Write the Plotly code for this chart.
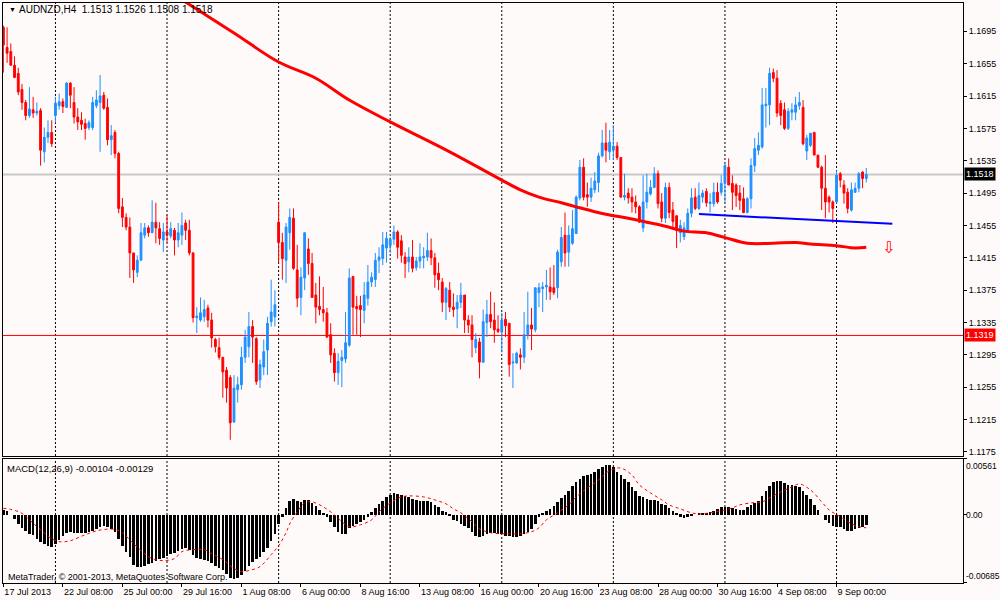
import plotly.graph_objects as go

# AUDNZD H4 candles, 17 Jul 2013 .. 9 Sep 2013
opens = [
    1.1700, 1.1675, 1.1670, 1.1653, 1.1643, 1.1623, 1.1607, 1.1591, 1.1598, 1.1594,
    1.1597, 1.1546, 1.1564, 1.1570, 1.1591, 1.1603, 1.1608, 1.1601, 1.1631, 1.1607,
    1.1589, 1.1585, 1.1581, 1.1576, 1.1576, 1.1603, 1.1607, 1.1616, 1.1601, 1.1561,
    1.1570, 1.1544, 1.1478, 1.1465, 1.1453, 1.1421, 1.1397, 1.1412, 1.1443, 1.1452,
    1.1446, 1.1459, 1.1451, 1.1437, 1.1447, 1.1442, 1.1449, 1.1437, 1.1443, 1.1458,
    1.1449, 1.1421, 1.1341, 1.1338, 1.1342, 1.1353, 1.1338, 1.1314, 1.1304, 1.1292,
    1.1276, 1.1267, 1.1212, 1.1252, 1.1258, 1.1292, 1.1305, 1.1330, 1.1315, 1.1264,
    1.1280, 1.1301, 1.1336, 1.1342, 1.1459, 1.1434, 1.1412, 1.1446, 1.1464, 1.1400,
    1.1366, 1.1390, 1.1426, 1.1408, 1.1369, 1.1355, 1.1351, 1.1347, 1.1320, 1.1297,
    1.1273, 1.1288, 1.1290, 1.1307, 1.1392, 1.1355, 1.1356, 1.1350, 1.1365, 1.1385,
    1.1388, 1.1412, 1.1414, 1.1427, 1.1430, 1.1438, 1.1447, 1.1436, 1.1416, 1.1410,
    1.1416, 1.1403, 1.1411, 1.1415, 1.1416, 1.1424, 1.1415, 1.1396, 1.1385, 1.1360,
    1.1375, 1.1354, 1.1352, 1.1360, 1.1369, 1.1338, 1.1332, 1.1304, 1.1311, 1.1286,
    1.1335, 1.1345, 1.1338, 1.1327, 1.1323, 1.1339, 1.1334, 1.1285, 1.1285, 1.1295,
    1.1292, 1.1320, 1.1332, 1.1326, 1.1372, 1.1377, 1.1379, 1.1379, 1.1378, 1.1378,
    1.1410, 1.1443, 1.1422, 1.1433, 1.1445, 1.1489, 1.1527, 1.1493, 1.1490, 1.1499,
    1.1508, 1.1541, 1.1557, 1.1546, 1.1548, 1.1553, 1.1539, 1.1490, 1.1495, 1.1490,
    1.1484, 1.1478, 1.1452, 1.1484, 1.1494, 1.1502, 1.1519, 1.1484, 1.1464, 1.1502,
    1.1474, 1.1467, 1.1446, 1.1441, 1.1449, 1.1470, 1.1490, 1.1476, 1.1490, 1.1497,
    1.1482, 1.1482, 1.1496, 1.1496, 1.1507, 1.1527, 1.1507, 1.1505, 1.1495, 1.1488,
    1.1471, 1.1488, 1.1529, 1.1548, 1.1552, 1.1603, 1.1604, 1.1644, 1.1637, 1.1606,
    1.1598, 1.1575, 1.1595, 1.1595, 1.1603, 1.1601, 1.1547, 1.1554, 1.1570, 1.1542,
    1.1527, 1.1501, 1.1490, 1.1484, 1.1484, 1.1519, 1.1505, 1.1496, 1.1474, 1.1496,
    1.1501, 1.1521, 1.1513,
]
highs = [
    1.1702, 1.1700, 1.1680, 1.1664, 1.1650, 1.1630, 1.1610, 1.1626, 1.1614, 1.1607,
    1.1600, 1.1576, 1.1585, 1.1585, 1.1614, 1.1618, 1.1612, 1.1632, 1.1632, 1.1626,
    1.1600, 1.1595, 1.1587, 1.1585, 1.1614, 1.1622, 1.1641, 1.1620, 1.1612, 1.1579,
    1.1573, 1.1546, 1.1489, 1.1470, 1.1465, 1.1421, 1.1418, 1.1458, 1.1458, 1.1455,
    1.1486, 1.1483, 1.1459, 1.1458, 1.1468, 1.1459, 1.1452, 1.1458, 1.1471, 1.1462,
    1.1462, 1.1422, 1.1354, 1.1366, 1.1363, 1.1357, 1.1347, 1.1316, 1.1316, 1.1292,
    1.1280, 1.1270, 1.1270, 1.1268, 1.1305, 1.1326, 1.1348, 1.1338, 1.1317, 1.1289,
    1.1314, 1.1342, 1.1388, 1.1375, 1.1484, 1.1446, 1.1458, 1.1476, 1.1476, 1.1431,
    1.1403, 1.1446, 1.1439, 1.1421, 1.1384, 1.1392, 1.1379, 1.1353, 1.1334, 1.1303,
    1.1297, 1.1301, 1.1348, 1.1402, 1.1392, 1.1368, 1.1368, 1.1385, 1.1406, 1.1397,
    1.1421, 1.1428, 1.1447, 1.1447, 1.1441, 1.1455, 1.1449, 1.1443, 1.1422, 1.1428,
    1.1437, 1.1416, 1.1433, 1.1428, 1.1446, 1.1439, 1.1421, 1.1409, 1.1390, 1.1379,
    1.1385, 1.1371, 1.1369, 1.1384, 1.1369, 1.1344, 1.1344, 1.1322, 1.1316, 1.1351,
    1.1363, 1.1373, 1.1360, 1.1344, 1.1347, 1.1348, 1.1334, 1.1297, 1.1299, 1.1303,
    1.1348, 1.1373, 1.1353, 1.1378, 1.1384, 1.1385, 1.1400, 1.1403, 1.1406, 1.1425,
    1.1453, 1.1471, 1.1455, 1.1474, 1.1492, 1.1536, 1.1538, 1.1508, 1.1514, 1.1521,
    1.1545, 1.1573, 1.1582, 1.1573, 1.1579, 1.1558, 1.1539, 1.1519, 1.1501, 1.1501,
    1.1492, 1.1480, 1.1517, 1.1519, 1.1511, 1.1527, 1.1523, 1.1495, 1.1508, 1.1508,
    1.1484, 1.1467, 1.1462, 1.1459, 1.1476, 1.1501, 1.1501, 1.1508, 1.1499, 1.1501,
    1.1495, 1.1508, 1.1508, 1.1517, 1.1532, 1.1538, 1.1517, 1.1507, 1.1505, 1.1502,
    1.1490, 1.1538, 1.1563, 1.1570, 1.1625, 1.1625, 1.1650, 1.1649, 1.1647, 1.1610,
    1.1607, 1.1600, 1.1606, 1.1614, 1.1620, 1.1610, 1.1567, 1.1569, 1.1570, 1.1542,
    1.1529, 1.1542, 1.1492, 1.1486, 1.1523, 1.1521, 1.1511, 1.1501, 1.1508, 1.1508,
    1.1521, 1.1522, 1.1526,
]
lows = [
    1.1644, 1.1656, 1.1653, 1.1637, 1.1616, 1.1598, 1.1585, 1.1588, 1.1588, 1.1591,
    1.1529, 1.1533, 1.1557, 1.1552, 1.1582, 1.1598, 1.1594, 1.1600, 1.1600, 1.1581,
    1.1573, 1.1573, 1.1561, 1.1573, 1.1573, 1.1600, 1.1546, 1.1598, 1.1554, 1.1542,
    1.1538, 1.1470, 1.1453, 1.1449, 1.1390, 1.1384, 1.1391, 1.1412, 1.1439, 1.1441,
    1.1446, 1.1433, 1.1431, 1.1422, 1.1434, 1.1439, 1.1418, 1.1428, 1.1431, 1.1437,
    1.1418, 1.1335, 1.1322, 1.1336, 1.1336, 1.1329, 1.1304, 1.1298, 1.1289, 1.1242,
    1.1236, 1.1190, 1.1211, 1.1236, 1.1252, 1.1285, 1.1292, 1.1285, 1.1258, 1.1254,
    1.1270, 1.1270, 1.1330, 1.1330, 1.1409, 1.1388, 1.1384, 1.1425, 1.1400, 1.1354,
    1.1344, 1.1375, 1.1394, 1.1366, 1.1334, 1.1344, 1.1336, 1.1316, 1.1285, 1.1262,
    1.1258, 1.1255, 1.1285, 1.1305, 1.1320, 1.1320, 1.1317, 1.1334, 1.1356, 1.1379,
    1.1379, 1.1396, 1.1406, 1.1409, 1.1421, 1.1431, 1.1414, 1.1409, 1.1390, 1.1397,
    1.1397, 1.1399, 1.1402, 1.1402, 1.1411, 1.1406, 1.1378, 1.1375, 1.1348, 1.1338,
    1.1348, 1.1342, 1.1328, 1.1353, 1.1322, 1.1322, 1.1292, 1.1297, 1.1266, 1.1285,
    1.1317, 1.1328, 1.1310, 1.1322, 1.1298, 1.1317, 1.1268, 1.1254, 1.1284, 1.1277,
    1.1285, 1.1314, 1.1301, 1.1323, 1.1354, 1.1348, 1.1363, 1.1363, 1.1369, 1.1365,
    1.1404, 1.1404, 1.1404, 1.1431, 1.1445, 1.1486, 1.1486, 1.1478, 1.1484, 1.1495,
    1.1496, 1.1539, 1.1533, 1.1536, 1.1536, 1.1536, 1.1490, 1.1486, 1.1482, 1.1471,
    1.1470, 1.1458, 1.1447, 1.1476, 1.1492, 1.1501, 1.1476, 1.1459, 1.1458, 1.1464,
    1.1452, 1.1427, 1.1434, 1.1437, 1.1446, 1.1465, 1.1474, 1.1474, 1.1483, 1.1478,
    1.1471, 1.1478, 1.1482, 1.1492, 1.1484, 1.1505, 1.1474, 1.1478, 1.1474, 1.1470,
    1.1470, 1.1476, 1.1521, 1.1542, 1.1550, 1.1576, 1.1579, 1.1632, 1.1589, 1.1579,
    1.1573, 1.1573, 1.1585, 1.1585, 1.1598, 1.1554, 1.1536, 1.1552, 1.1542, 1.1526,
    1.1474, 1.1464, 1.1471, 1.1458, 1.1482, 1.1502, 1.1482, 1.1470, 1.1472, 1.1495,
    1.1496, 1.1501, 1.1508,
]
closes = [
    1.1678, 1.1668, 1.1653, 1.1638, 1.1620, 1.1607, 1.1591, 1.1599, 1.1594, 1.1596,
    1.1548, 1.1564, 1.1570, 1.1556, 1.1606, 1.1608, 1.1602, 1.1631, 1.1616, 1.1589,
    1.1583, 1.1580, 1.1575, 1.1582, 1.1607, 1.1610, 1.1615, 1.1600, 1.1561, 1.1566,
    1.1544, 1.1476, 1.1465, 1.1453, 1.1421, 1.1400, 1.1412, 1.1446, 1.1452, 1.1446,
    1.1459, 1.1452, 1.1439, 1.1447, 1.1443, 1.1451, 1.1437, 1.1446, 1.1455, 1.1449,
    1.1421, 1.1341, 1.1343, 1.1347, 1.1351, 1.1338, 1.1316, 1.1305, 1.1292, 1.1274,
    1.1254, 1.1211, 1.1254, 1.1258, 1.1292, 1.1317, 1.1330, 1.1317, 1.1262, 1.1283,
    1.1299, 1.1334, 1.1348, 1.1357, 1.1434, 1.1414, 1.1453, 1.1465, 1.1402, 1.1365,
    1.1391, 1.1446, 1.1408, 1.1366, 1.1354, 1.1351, 1.1347, 1.1317, 1.1295, 1.1273,
    1.1287, 1.1292, 1.1310, 1.1390, 1.1354, 1.1352, 1.1351, 1.1369, 1.1385, 1.1391,
    1.1412, 1.1416, 1.1431, 1.1439, 1.1438, 1.1447, 1.1428, 1.1418, 1.1408, 1.1416,
    1.1402, 1.1411, 1.1416, 1.1417, 1.1424, 1.1415, 1.1394, 1.1388, 1.1360, 1.1377,
    1.1354, 1.1351, 1.1360, 1.1369, 1.1338, 1.1332, 1.1314, 1.1314, 1.1286, 1.1336,
    1.1345, 1.1336, 1.1326, 1.1324, 1.1338, 1.1331, 1.1283, 1.1286, 1.1297, 1.1292,
    1.1320, 1.1332, 1.1327, 1.1378, 1.1378, 1.1379, 1.1381, 1.1373, 1.1372, 1.1422,
    1.1440, 1.1421, 1.1443, 1.1451, 1.1490, 1.1527, 1.1490, 1.1490, 1.1501, 1.1510,
    1.1541, 1.1557, 1.1548, 1.1558, 1.1553, 1.1539, 1.1490, 1.1492, 1.1489, 1.1484,
    1.1478, 1.1459, 1.1484, 1.1496, 1.1502, 1.1519, 1.1482, 1.1464, 1.1502, 1.1471,
    1.1460, 1.1449, 1.1455, 1.1452, 1.1470, 1.1489, 1.1476, 1.1492, 1.1495, 1.1483,
    1.1484, 1.1496, 1.1484, 1.1507, 1.1529, 1.1505, 1.1496, 1.1492, 1.1486, 1.1471,
    1.1488, 1.1529, 1.1550, 1.1554, 1.1604, 1.1605, 1.1643, 1.1637, 1.1594, 1.1591,
    1.1575, 1.1596, 1.1598, 1.1604, 1.1607, 1.1556, 1.1563, 1.1569, 1.1542, 1.1527,
    1.1501, 1.1484, 1.1484, 1.1476, 1.1517, 1.1511, 1.1495, 1.1476, 1.1499, 1.1501,
    1.1519, 1.1513, 1.1518,
]

# MACD(12,26,9) main histogram, one value per bar
macd_main = [
    0.0005, 0.0004, 0.0000, -0.0004, -0.0009, -0.0013, -0.0016, -0.0019, -0.0020, -0.0024,
    -0.0027, -0.0029, -0.0031, -0.0032, -0.0029, -0.0025, -0.0021, -0.0018, -0.0017, -0.0018,
    -0.0018, -0.0018, -0.0018, -0.0017, -0.0016, -0.0014, -0.0012, -0.0011, -0.0012, -0.0014,
    -0.0017, -0.0024, -0.0031, -0.0037, -0.0042, -0.0050, -0.0052, -0.0052, -0.0051, -0.0049,
    -0.0048, -0.0046, -0.0044, -0.0043, -0.0041, -0.0039, -0.0038, -0.0036, -0.0034, -0.0033,
    -0.0035, -0.0040, -0.0043, -0.0044, -0.0045, -0.0046, -0.0048, -0.0051, -0.0053, -0.0055,
    -0.0059, -0.0063, -0.0064, -0.0063, -0.0060, -0.0056, -0.0051, -0.0047, -0.0044, -0.0042,
    -0.0037, -0.0033, -0.0026, -0.0019, -0.0009, -0.0002, 0.0007, 0.0014, 0.0016, 0.0014,
    0.0013, 0.0015, 0.0015, 0.0012, 0.0009, 0.0005, 0.0002, -0.0002, -0.0007, -0.0012,
    -0.0017, -0.0019, -0.0019, -0.0013, -0.0011, -0.0009, -0.0007, -0.0005, -0.0002, 0.0003,
    0.0007, 0.0011, 0.0014, 0.0018, 0.0020, 0.0022, 0.0021, 0.0020, 0.0019, 0.0018,
    0.0016, 0.0015, 0.0014, 0.0014, 0.0014, 0.0013, 0.0010, 0.0008, 0.0004, 0.0003,
    -0.0001, -0.0005, -0.0006, -0.0009, -0.0011, -0.0013, -0.0017, -0.0021, -0.0022, -0.0021,
    -0.0019, -0.0018, -0.0018, -0.0019, -0.0019, -0.0021, -0.0021, -0.0022, -0.0022, -0.0021,
    -0.0019, -0.0017, -0.0014, -0.0009, -0.0002, 0.0002, 0.0004, 0.0006, 0.0009, 0.0013,
    0.0017, 0.0020, 0.0024, 0.0029, 0.0033, 0.0036, 0.0039, 0.0040, 0.0041, 0.0043,
    0.0046, 0.0048, 0.0050, 0.0050, 0.0048, 0.0043, 0.0040, 0.0036, 0.0033, 0.0028,
    0.0024, 0.0019, 0.0018, 0.0016, 0.0015, 0.0015, 0.0014, 0.0011, 0.0010, 0.0007,
    0.0004, 0.0002, -0.0002, -0.0003, -0.0002, -0.0001, 0.0000, 0.0001, 0.0002, 0.0002,
    0.0003, 0.0004, 0.0006, 0.0008, 0.0008, 0.0008, 0.0007, 0.0006, 0.0005, 0.0005,
    0.0008, 0.0010, 0.0012, 0.0014, 0.0019, 0.0024, 0.0029, 0.0033, 0.0034, 0.0034,
    0.0032, 0.0030, 0.0030, 0.0029, 0.0028, 0.0024, 0.0020, 0.0016, 0.0010, 0.0005,
    0.0000, -0.0005, -0.0008, -0.0011, -0.0012, -0.0012, -0.0014, -0.0016, -0.0016, -0.0014,
    -0.0013, -0.0012, -0.0010,
]

# MACD signal line, read at selected bars
sig_idx = [0, 2, 5, 7, 10, 13, 15, 18, 22, 26, 30, 32, 35, 38, 40, 43, 46, 48, 51, 54,
           56, 59, 62, 64, 66, 69, 72, 74, 76, 77, 79, 81, 83, 86, 89, 91, 93, 96, 99, 101,
           104, 107, 109, 113, 116, 119, 121, 123, 126, 128, 131, 134, 136, 139, 142, 144, 146, 149, 152, 154,
           157, 160, 162, 164, 166, 169, 171, 174, 177, 179, 182, 185, 187, 190, 193, 196, 198, 201, 204, 206,
           209, 212, 214, 217, 220, 222, 225, 228, 230, 232]
sig_val = [0.00065, 0.00055, 0.00015, -0.0005, -0.0015, -0.0024, -0.0027, -0.0026, -0.0020, -0.00153,
           -0.00146, -0.0018, -0.0029, -0.0039, -0.0044, -0.0046, -0.0044, -0.0037, -0.0035, -0.0035,
           -0.0039, -0.0045, -0.0054, -0.0057, -0.0056, -0.0052, -0.0040, -0.0031, -0.0018, -0.0009,
           0.0003, 0.0012, 0.0013, 0.0008, 0.0000, -0.0007, -0.0012, -0.0010, -0.0005, 0.0003,
           0.0012, 0.0018, 0.0019, 0.0018, 0.0015, 0.0011, 0.0006, 0.0002, -0.0007, -0.0014,
           -0.0018, -0.0019, -0.0019, -0.0019, -0.0017, -0.0013, -0.0005, 0.0002, 0.0010, 0.0018,
           0.0027, 0.0035, 0.0042, 0.0046, 0.0047, 0.0040, 0.0030, 0.0022, 0.0015, 0.0010,
           0.0006, 0.0002, 0.0001, 0.0002, 0.0004, 0.0007, 0.0010, 0.0012, 0.0013, 0.0017,
           0.0023, 0.0028, 0.0031, 0.0025, 0.0013, 0.0005, -0.0002, -0.0009, -0.0012, -0.0013]

# moving average (thick red), read where it is inside the chart
ma_idx = [47, 62, 74, 84, 93, 104, 120, 134, 139, 144, 150, 154, 159, 163, 168, 173,
          178, 183, 189, 194, 200, 207, 213, 217, 224, 229, 232]
ma_val = [1.1737, 1.1693, 1.1657, 1.1637, 1.1610, 1.1583, 1.1546, 1.1511, 1.1499, 1.1490,
          1.1483, 1.1478, 1.1472, 1.1468, 1.1464, 1.1459, 1.1454, 1.1448, 1.1446, 1.1440,
          1.1433, 1.1433, 1.1434, 1.1432, 1.1430, 1.1427, 1.1428]

# blue trend line and the sell arrow
trend_idx = [187, 239]
trend_val = [1.1469, 1.1457]
arrow_idx = 238
arrow_val = 1.1428

bid_price = 1.1518
level_price = 1.1319

price_ticks = [1.1175, 1.1215, 1.1255, 1.1295, 1.1335, 1.1375, 1.1415,
               1.1455, 1.1495, 1.1535, 1.1575, 1.1615, 1.1655, 1.1695]
macd_max = 0.00561
macd_min = -0.00685

label_idx = [0, 16, 32, 48, 64, 80, 96, 112, 128, 144, 160, 176, 192, 208, 224]
label_text = ["17 Jul 2013", "22 Jul 08:00", "25 Jul 00:00", "29 Jul 16:00", "1 Aug 08:00",
              "6 Aug 00:00", "8 Aug 16:00", "13 Aug 08:00", "16 Aug 00:00", "20 Aug 16:00",
              "23 Aug 08:00", "28 Aug 00:00", "30 Aug 16:00", "4 Sep 08:00", "9 Sep 00:00"]
grid_idx = [14, 44, 74, 104, 134, 164, 194, 224]

BG = "#FFFAFA"
UP = "#1E90FF"
DOWN = "#FF0000"
FONT = "Liberation Sans"

bars = list(range(len(closes)))
x_range = [-0.1, 258]

fig = go.Figure()

fig.add_trace(go.Candlestick(
    x=bars, open=opens, high=highs, low=lows, close=closes,
    xaxis="x", yaxis="y", whiskerwidth=0, hoverinfo="none",
    increasing=dict(line=dict(color=UP, width=1), fillcolor=UP),
    decreasing=dict(line=dict(color=DOWN, width=1), fillcolor=DOWN),
))
fig.add_trace(go.Scatter(
    x=ma_idx, y=ma_val, mode="lines", xaxis="x", yaxis="y", hoverinfo="none",
    line=dict(color="#FF0000", width=3, shape="spline"),
))
fig.add_trace(go.Scatter(
    x=trend_idx, y=trend_val, mode="lines", xaxis="x", yaxis="y", hoverinfo="none",
    line=dict(color="#0000FF", width=2),
))

fig.add_trace(go.Bar(
    x=bars, y=macd_main, xaxis="x2", yaxis="y2", width=0.7,
    marker=dict(color="black", line=dict(width=0)), hoverinfo="none",
))
fig.add_trace(go.Scatter(
    x=sig_idx, y=sig_val, mode="lines", xaxis="x2", yaxis="y2", hoverinfo="none",
    line=dict(color="#FF0000", width=1, dash="dot", shape="spline"),
))

# dotted vertical grid in both panels
for g in grid_idx:
    for xr, yr in (("x", "y domain"), ("x2", "y2 domain")):
        fig.add_shape(type="line", xref=xr, yref=yr, x0=g, x1=g, y0=0, y1=1,
                      line=dict(color="black", width=1, dash="2px,2px"), layer="below")

fig.add_shape(type="line", xref="x domain", yref="y", x0=0, x1=1, y0=bid_price, y1=bid_price,
              line=dict(color="#C8C8C8", width=2), layer="below")
fig.add_shape(type="line", xref="x domain", yref="y", x0=0, x1=1, y0=level_price, y1=level_price,
              line=dict(color="#FF0000", width=1), layer="below")

axis_common = dict(showline=True, mirror=True, linecolor="black", linewidth=1,
                   showgrid=False, zeroline=False)

fig.update_layout(
    width=1000, height=600,
    margin=dict(l=3, r=37, t=3, b=17),
    paper_bgcolor=BG, plot_bgcolor=BG,
    font=dict(family=FONT, size=9, color="black"),
    showlegend=False,
    xaxis=dict(domain=[0, 1], anchor="y", range=x_range, showticklabels=False, ticks="",
               rangeslider=dict(visible=False), **axis_common),
    xaxis2=dict(domain=[0, 1], anchor="y2", matches="x", range=x_range,
                tickmode="array", tickvals=label_idx, ticktext=label_text, tickangle=0,
                ticks="outside", ticklen=3, tickcolor="black",
                ticklabelposition="outside right", **axis_common),
    yaxis=dict(domain=[0.219, 1], anchor="x", side="right", range=[1.1170, 1.1730],
               tickmode="array", tickvals=price_ticks, tickformat=".4f",
               ticks="outside", ticklen=3, tickcolor="black", **axis_common),
    yaxis2=dict(domain=[0, 0.2138], anchor="x2", side="right", range=[macd_min, macd_max],
                tickmode="array", tickvals=[macd_max, 0, macd_min], showticklabels=False,
                ticks="outside", ticklen=3, tickcolor="black", **axis_common),
    bargap=0,
)

notes = [
    dict(text="▼", x=0.004, y=0.988, xref="paper", yref="paper", font=dict(size=7)),
    dict(text="AUDNZD,H4  1.1513 1.1526 1.1508 1.1518", x=0.0145, y=0.988,
         xref="paper", yref="paper", font=dict(size=10)),
    dict(text="MACD(12,26,9) -0.00104 -0.00129", x=0.002, y=0.198, xref="paper", yref="paper",
         font=dict(size=9.5)),
    dict(text="MetaTrader, © 2001-2013, MetaQuotes Software Corp.", x=0.003, y=0.011,
         xref="paper", yref="paper"),
]
for n in notes:
    fig.add_annotation(showarrow=False, xanchor="left", yanchor="middle", **n)

for price, bg in ((bid_price, "black"), (level_price, "#FF0000")):
    fig.add_annotation(text=f"{price:.4f}", x=1, xref="paper", y=price, yref="y",
                       xanchor="left", yanchor="middle", xshift=1, showarrow=False,
                       bgcolor=bg, font=dict(color="white", size=9), borderpad=1)

for val, anchor in ((macd_max, "top"), (0, "middle"), (macd_min, "bottom")):
    txt = "0.00" if val == 0 else f"{val:.5f}"
    fig.add_annotation(text=txt, x=1, xref="paper", y=val, yref="y2", xanchor="left",
                       yanchor=anchor, xshift=1, showarrow=False, font=dict(size=8.5))

fig.add_annotation(text="⇩", x=arrow_idx, y=arrow_val, xref="x", yref="y", showarrow=False,
                   font=dict(color="#FF0000", size=16, family="DejaVu Sans"))

# the page opens with the default 8px body margin; drop it so the chart sits at 0,0
fig.write_html("out.html", config={"displayModeBar": False},
               post_script="document.body.style.margin = '0';")
